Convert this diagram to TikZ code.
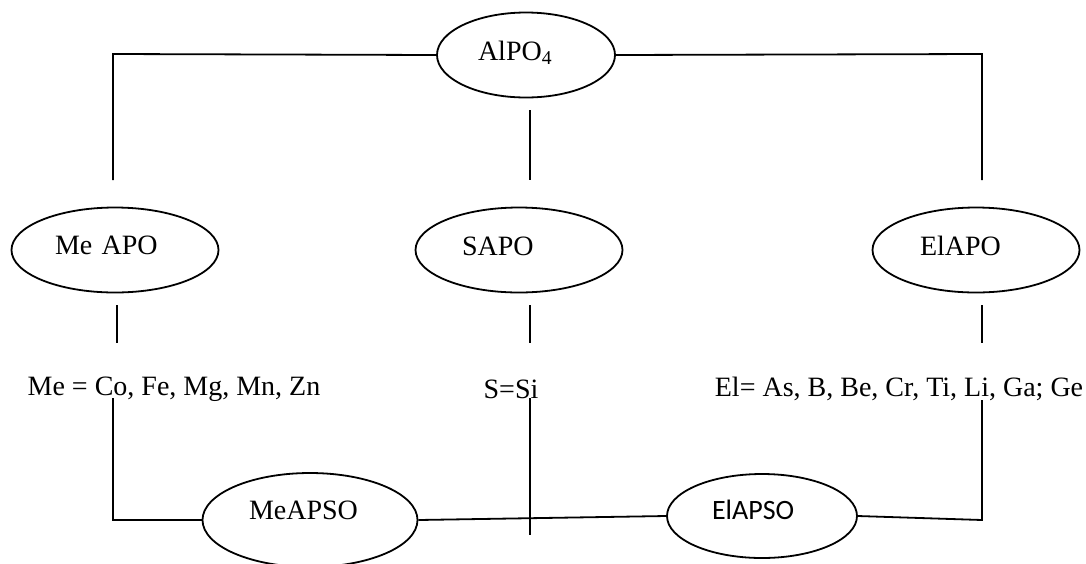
\documentclass[tikz,border=0pt]{standalone}
\usepackage{fontspec}
\setmainfont{Liberation Serif}
\newfontfamily\sansfont{Carlito}
\usetikzlibrary{shapes.geometric}

\begin{document}
\begin{tikzpicture}[x=0.5pt,y=-0.5pt]
\useasboundingbox (0,0) rectangle (1086,563);
\begin{scope}[every node/.style={ellipse,draw,line width=0.9pt,inner sep=0pt,
              minimum height=42.5pt,text width=56pt,align=left,
              text height=10pt,text depth=5pt,
              font=\fontsize{14}{16}\selectfont}]
    \node[minimum width=89pt,text width=48pt] (AlPO) at (526,55) {AlPO\textsubscript{4}};
    \node[minimum width=103.5pt,text width=60pt,text depth=6pt] (MeAPO) at (115,250) {Me APO};
    \node[minimum width=103.5pt,text width=57pt] (SAPO) at (519,250) {SAPO};
    \node[minimum width=103.5pt] (ElAPO) at (976,250) {ElAPO};
    \node[minimum width=107.5pt,minimum height=47pt,text width=61pt,text depth=10.5pt] (MeAPSO) at (310,520) {MeAPSO};
    \node[minimum width=95pt,minimum height=42pt,text width=50pt,text depth=6.5pt,
          font=\sansfont\fontsize{14}{16}\selectfont] (ElAPSO) at (762,516) {ElAPSO};
\end{scope}
\begin{scope}[every node/.style={inner sep=0pt,font=\fontsize{14}{16}\selectfont}]
    \node (MeList) at (174,389) {Me = Co, Fe, Mg, Mn, Zn};
    \node (SList) at (511,389) {S=Si};
    \node (ElList) at (899,389) {El= As, B, Be, Cr, Ti, Li, Ga; Ge};
\end{scope}
% free ends of the connectors
\coordinate (tl) at (113,54);
\coordinate (tr) at (982,54);
\coordinate (l1) at (113,180);
\coordinate (r1) at (982,180);
\coordinate (m0) at (530,110);
\coordinate (m1) at (530,180);
\coordinate (l2) at (117,305);
\coordinate (l3) at (117,343);
\coordinate (m2) at (530,305);
\coordinate (m3) at (530,343);
\coordinate (r2) at (982,305);
\coordinate (r3) at (982,343);
\coordinate (l4) at (113,398);
\coordinate (l5) at (113,520);
\coordinate (m4) at (530,398);
\coordinate (m5) at (530,535);
\coordinate (r4) at (982,400);
\coordinate (r5) at (982,520);
\begin{scope}[link/.style={draw=black,line width=0.9pt}]
    \path [link] (AlPO.west) -- (tl) -- (l1);
    \path [link] (AlPO.east) -- (tr) -- (r1);
    \path [link] (m0) -- (m1);
    \path [link] (l2) -- (l3);
    \path [link] (m2) -- (m3);
    \path [link] (r2) -- (r3);
    \path [link] (l4) -- (l5) -- (MeAPSO.west);
    \path [link] (MeAPSO.east) -- (ElAPSO.west);
    \path [link] (ElAPSO.east) -- (r5) -- (r4);
    \path [link] (m4) -- (m5);
\end{scope}
\end{tikzpicture}
\end{document}
